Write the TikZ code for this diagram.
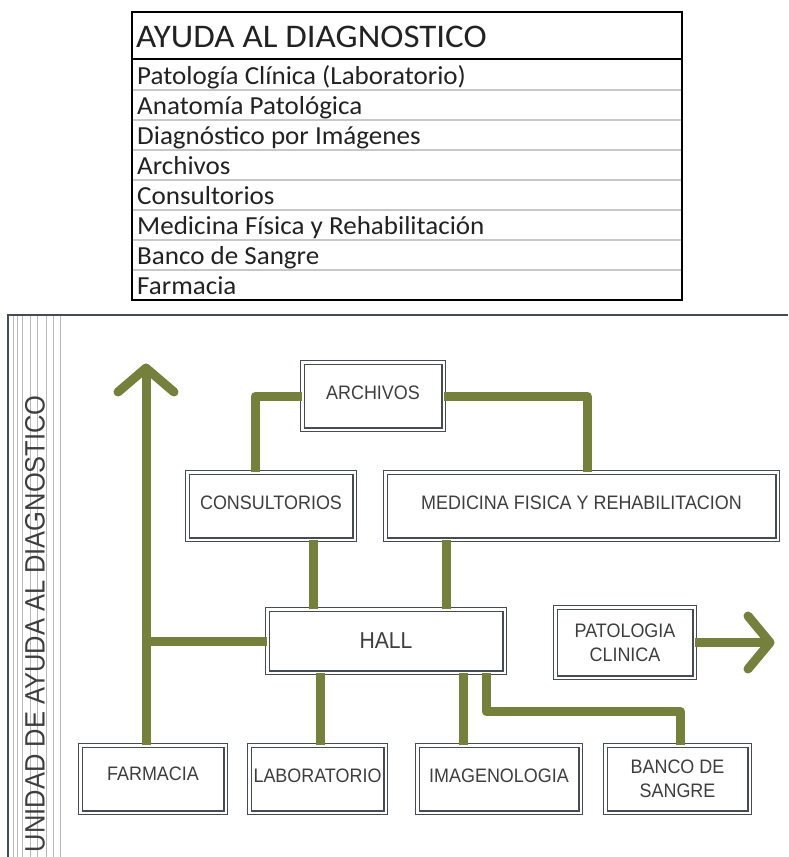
\documentclass[tikz,border=0pt]{standalone}
\usepackage{fontspec}
\newfontfamily\boxfont{Liberation Sans}[FakeStretch=0.92]
\newfontfamily\sidefont{Liberation Sans}[FakeStretch=0.91]
\newfontfamily\tabfont{Carlito}[FakeStretch=1.04]
\newfontfamily\titfont{Carlito}[FakeStretch=1.06]
\definecolor{olive}{RGB}{117,128,60}
\definecolor{boxgray}{RGB}{70,76,84}
\definecolor{txtgray}{RGB}{62,62,62}
\definecolor{tabtxt}{RGB}{34,34,34}
\definecolor{linegray}{RGB}{185,185,185}
\definecolor{rowgray}{RGB}{200,200,200}
\tikzset{
  box/.style={draw=boxgray, double, double distance=2.4pt, line width=1.1pt,
    inner sep=0pt, align=center, text=txtgray, font=\boxfont\fontsize{19.5}{24}\selectfont},
  lift/.style={text depth=7pt},
  conn/.style={draw=olive, line width=9pt, line join=round},
  chev/.style={draw=olive, line width=9pt, line join=round, line cap=round},
  rowtext/.style={anchor=base west, inner sep=0pt, text=tabtxt, font=\tabfont\fontsize{26}{28}\selectfont},
}
\begin{document}
\begin{tikzpicture}[x=1pt,y=-1pt]
\useasboundingbox (0,0) rectangle (788,857);
\clip (0,0) rectangle (788,857);
\fill[white] (0,0) rectangle (788,857);

% ---- table ----
\foreach \yy in {90,120,...,270} \draw[rowgray, line width=1.8pt] (132,\yy) -- (682,\yy);
\draw[black, line width=1.4pt] (132,59) -- (682,59);
\draw[black, line width=2pt] (132,12) rectangle (682,300);
\node[anchor=base west, inner sep=0pt, text=tabtxt, font=\titfont\fontsize{33}{36}\selectfont] (title) at (136,47) {AYUDA AL DIAGNOSTICO};
\node[rowtext] (r1) at (137,84.5) {Patología Clínica (Laboratorio)};
\node[rowtext] (r2) at (137,114.5) {Anatomía Patológica};
\node[rowtext] (r3) at (137,144.5) {Diagnóstico por Imágenes};
\node[rowtext] (r4) at (137,174.5) {Archivos};
\node[rowtext] (r5) at (137,204.5) {Consultorios};
\node[rowtext] (r6) at (137,234.5) {Medicina Física y Rehabilitación};
\node[rowtext] (r7) at (137,264.5) {Banco de Sangre};
\node[rowtext] (r8) at (137,294.5) {Farmacia};

% ---- frame ----
\foreach \xx in {13,17.5,22.5,30,37.5,46,53,60.5} \draw[linegray, line width=1pt] (\xx,315) -- (\xx,857);
\draw[boxgray, line width=1.3pt] (8,857) -- (8,315) -- (788,315);
\node[rotate=90, anchor=east, inner sep=0pt, text=txtgray, font=\sidefont\fontsize{28}{30}\selectfont] (side) at (35,395) {UNIDAD DE AYUDA AL DIAGNOSTICO};

% ---- boxes ----
\node[box, lift, minimum width=141.4pt, minimum height=67.4pt] (arch) at (373,396) {ARCHIVOS};
\node[box, lift, minimum width=167.4pt, minimum height=67.4pt] (cons) at (271,506) {CONSULTORIOS};
\node[box, lift, minimum width=392.4pt, minimum height=67.4pt] (med) at (581.5,506) {MEDICINA FISICA Y REHABILITACION};
\node[box, minimum width=237.4pt, minimum height=63.4pt, font=\boxfont\fontsize{23}{26}\selectfont] (hall) at (386,641) {HALL};
\node[box, minimum width=139.4pt, minimum height=70.4pt] (pat) at (625,642.5) {PATOLOGIA\\CLINICA};
\node[box, text depth=11pt, minimum width=145.4pt, minimum height=67.4pt] (farm) at (153,779) {FARMACIA};
\node[box, lift, minimum width=136.4pt, minimum height=67.4pt] (lab) at (317.5,779) {LABORATORIO};
\node[box, lift, minimum width=163.4pt, minimum height=67.4pt] (imag) at (499,779) {IMAGENOLOGIA};
\node[box, minimum width=144.4pt, minimum height=67.4pt] (banco) at (677.5,779) {BANCO DE\\SANGRE};

% ---- connectors ----
\coordinate (uptip) at (146,368);
\coordinate (pattip) at (770,642.5);
\draw[conn] (farm.north -| uptip) -- (uptip);
\draw[chev] (118,392) -- (uptip) -- (174,392);
\draw[conn] (hall.west) -- (hall.west -| uptip);
\draw[conn] (arch.west) -| ([xshift=-16pt]cons.north);
\draw[conn] (arch.east) -| ([xshift=5.5pt]med.north);
\draw[conn] ([xshift=42pt]cons.south) -- ([xshift=-73pt]hall.north);
\draw[conn] ([xshift=-135.5pt]med.south) -- ([xshift=60pt]hall.north);
\draw[conn] ([xshift=-66pt]hall.south) -- ([xshift=2.5pt]lab.north);
\draw[conn] ([xshift=77pt]hall.south) -- ([xshift=-36pt]imag.north);
\draw[conn] ([xshift=100pt]hall.south) -- ++(0,38) -| ([xshift=2.5pt]banco.north);
\draw[conn] (pat.east) -- (pattip);
\draw[chev] (748,616) -- (pattip) -- (748,669);
\end{tikzpicture}
\end{document}
